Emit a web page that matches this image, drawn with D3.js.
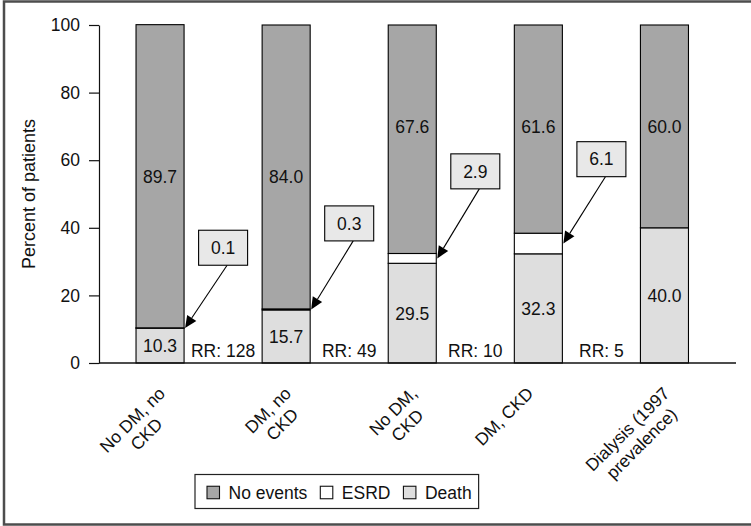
<!DOCTYPE html>
<html><head><meta charset="utf-8">
<script src="https://cdn.jsdelivr.net/npm/d3@7/dist/d3.min.js"></script>
<style>
html,body{margin:0;padding:0;background:#fff;}
svg{display:block;font-family:"Liberation Sans",Arial,Helvetica,sans-serif;}
</style></head>
<body>
<svg id="chart" width="751" height="526"></svg>
<script>
// ---- data ----
const categoryLines = [["No DM, no","CKD"],["DM, no","CKD"],["No DM,","CKD"],["DM, CKD"],["Dialysis (1997","prevalence)"]];
const death    = [10.3, 15.7, 29.5, 32.3, 40.0];
const esrd     = [0.1, 0.3, 2.9, 6.1, 0];
const noEvents = [89.7, 84.0, 67.6, 61.6, 60.0];
const rrLabels = ["RR: 128","RR: 49","RR: 10","RR: 5"];
const yTicks   = [0, 20, 40, 60, 80, 100];
const seriesNames = ["No events","ESRD","Death"];
// annotation placement (in percent units)
const calloutAt = [34.1, 41.3, 56.7, 60.3];
const noEventsLabelAt = [55, 55, 70, 70, 70];
const labelNudge = [0, 0, 0, -10, 0];

// ---- layout ----
const svg = d3.select("#chart");
const W = 751, H = 526;
const axisX = 99, plotRight = 736, yTop = 25, yBottom = 363;
const fs = 17.5;
const colors = {noEvents:"#a6a6a6", esrd:"#ffffff", death:"#dedede"};

// frame
svg.append("rect").attr("x",4).attr("y",1.5).attr("width",800).attr("height",523)
  .attr("fill","none").attr("stroke","#4d4d4d").attr("stroke-width",2.5);

const rows = categoryLines.map((c,i)=>({i, death:death[i], esrd:esrd[i], noEvents:noEvents[i]}));
const keys = ["death","esrd","noEvents"];
const stacked = d3.stack().keys(keys)(rows);

const x = d3.scaleBand().domain(d3.range(categoryLines.length)).range([97, 727.5])
  .paddingInner(0.619).paddingOuter(0.3095);
const y = d3.scaleLinear().domain([0,100]).range([yBottom, yTop]);
const bw = x.bandwidth();

// bars
const g = svg.append("g");
stacked.forEach(s=>{
  g.append("g").selectAll("rect").data(s.filter(d=>d[1]-d[0]>0)).join("rect")
    .attr("x",d=>x(d.data.i)).attr("width",bw)
    .attr("y",d=>y(d[1])).attr("height",d=>y(d[0])-y(d[1]))
    .attr("fill",colors[s.key]).attr("stroke","#000").attr("stroke-width",1.1);
});

// y axis
const yAxis = svg.append("g").attr("transform",`translate(${axisX},0)`)
  .call(d3.axisLeft(y).tickValues(yTicks).tickSize(10).tickSizeOuter(0).tickPadding(9));
yAxis.selectAll("path,line").attr("stroke","#111").attr("stroke-width",1.2);
yAxis.selectAll("text").attr("font-size",fs).attr("fill","#111")
  .attr("font-family","Liberation Sans, Arial, sans-serif");

// x axis line
svg.append("line").attr("x1",axisX).attr("x2",plotRight).attr("y1",y(0)).attr("y2",y(0))
  .attr("stroke","#111").attr("stroke-width",1.4);

// y title
svg.append("text").attr("transform",`translate(34.5,${(yTop+yBottom)/2}) rotate(-90)`)
  .attr("text-anchor","middle").attr("font-size",18).attr("fill","#111").text("Percent of patients");

// value labels
const fmt = d3.format(".1f");
svg.append("g").selectAll("text").data(rows).join("text")
  .attr("x",d=>x(d.i)+bw/2).attr("y",d=>y(noEventsLabelAt[d.i])).attr("dy","0.35em")
  .attr("text-anchor","middle").attr("font-size",fs).attr("fill","#111")
  .text(d=>fmt(d.noEvents));
svg.append("g").selectAll("text").data(rows).join("text")
  .attr("x",d=>x(d.i)+bw/2).attr("y",d=>y(d.death/2)).attr("dy","0.38em")
  .attr("text-anchor","middle").attr("font-size",fs).attr("fill","#111")
  .text(d=>fmt(d.death));

// RR labels (between bars)
const gapCenter = i => (x(i)+bw + x(i+1))/2;
svg.append("g").selectAll("text").data(rrLabels).join("text")
  .attr("x",(d,i)=>gapCenter(i)).attr("y",y(0)-6)
  .attr("text-anchor","middle").attr("font-size",fs).attr("fill","#111").text(d=>d);

// callouts
const bxW = 49, bxH = 35;
rrLabels.forEach((r,i)=>{
  const cx = gapCenter(i), cy = y(calloutAt[i]);
  const sx = cx + 4, sy = cy + bxH/2;
  const tx = x(i)+bw+1, ty = y(death[i] + esrd[i]/2);
  const dx = tx-sx, dy = ty-sy, len = Math.hypot(dx,dy);
  const ux = dx/len, uy = dy/len, nx = -uy, ny = ux;
  const hl = 12, hw = 5.5;
  const bx = tx-ux*hl, by = ty-uy*hl;
  svg.append("line").attr("x1",sx).attr("y1",sy).attr("x2",bx).attr("y2",by)
    .attr("stroke","#000").attr("stroke-width",1.1);
  svg.append("path").attr("d",`M${tx},${ty}L${bx+nx*hw},${by+ny*hw}L${bx-nx*hw},${by-ny*hw}Z`)
    .attr("fill","#000");
  svg.append("rect").attr("x",cx-bxW/2).attr("y",cy-bxH/2).attr("width",bxW).attr("height",bxH)
    .attr("fill","#e8e8e8").attr("stroke","#000").attr("stroke-width",1.1);
  svg.append("text").attr("x",cx).attr("y",cy).attr("dy","0.36em").attr("text-anchor","middle")
    .attr("font-size",fs).attr("fill","#111").text(fmt(esrd[i]));
});

// category labels rotated -45
const lh = 20;
categoryLines.forEach((lines,i)=>{
  const ax = x(i)+bw/2 - 4.5 + labelNudge[i], ay = 384;
  const gg = svg.append("g").attr("transform",`translate(${ax},${ay}) rotate(-45)`);
  const texts = lines.map((t,k)=>gg.append("text").attr("font-size",fs).attr("fill","#111")
      .attr("text-anchor","middle").attr("y",15+lh*k).text(t));
  const wmax = d3.max(texts, t=>t.node().getComputedTextLength());
  texts.forEach(t=>t.attr("x",-wmax/2));
});

// legend
const lg = svg.append("g");
const legendItems = [{name:seriesNames[0],c:colors.noEvents},{name:seriesNames[1],c:colors.esrd},{name:seriesNames[2],c:colors.death}];
let lx = 207;
const ly = 492.5, sq = 12.5;
const box = lg.append("rect");
legendItems.forEach(it=>{
  lg.append("rect").attr("x",lx).attr("y",ly-sq/2).attr("width",sq).attr("height",sq)
    .attr("fill",it.c).attr("stroke","#111").attr("stroke-width",1.1);
  const t = lg.append("text").attr("x",lx+sq+9).attr("y",ly).attr("dy","0.36em")
    .attr("font-size",fs).attr("fill","#111").text(it.name);
  lx = lx+sq+9+t.node().getComputedTextLength()+13;
});
box.attr("x",195).attr("y",474.5).attr("width",lx-13+7-195).attr("height",34)
  .attr("fill","#fff").attr("stroke","#222").attr("stroke-width",1.2);
</script>
</body></html>
